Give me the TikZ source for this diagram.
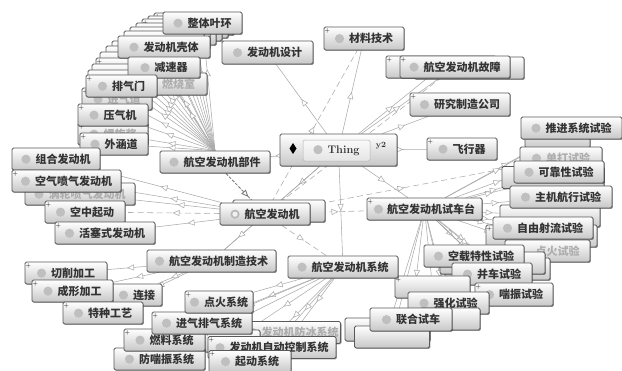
\documentclass[tikz,border=0pt]{standalone}
\usepackage{fontspec}
\newfontfamily\cjk{Noto Sans CJK SC}
\usetikzlibrary{arrows.meta,decorations.markings,shadows,backgrounds}
\newcommand\dotc{\tikz[baseline=-4pt]\fill[gray!50] (0pt,0pt) circle (4.6pt);}
\newcommand\ringc{\tikz[baseline=-4pt]{\fill[gray!55] (0pt,0pt) circle (4.6pt);\fill[gray!12] (0pt,0pt) circle (2.6pt);}}
\tikzset{
  w/.style={minimum width=#1pt},
  cls/.style={draw=black!65, line width=0.75pt, rounded corners=1.5pt,
    top color=white, bottom color=black!22, minimum height=22pt,
    inner xsep=2pt, inner ysep=1pt, font=\cjk\bfseries\fontsize{11}{13}\selectfont,
    text=black!80,
    drop shadow={shadow xshift=0.9pt, shadow yshift=-0.9pt, opacity=0.4, fill=black}},
  ghost/.style={cls, text=black!32},
  plus/.style={path picture={\node[font=\fontsize{6.5}{6.5}\selectfont, inner sep=0pt, text=black]
      at ([xshift=3.2pt,yshift=-3.8pt]path picture bounding box.north west) {+};}},
  innerbox/.style={draw=black!30, line width=0.5pt, rounded corners=1.5pt,
    top color=gray!4, bottom color=gray!20, minimum height=21pt, inner xsep=2pt,
    font=\rmfamily\bfseries\fontsize{11}{13}\selectfont, text=black!80},
  sub/.style={draw=gray!65, line width=0.55pt,
    postaction={decorate, decoration={markings,
      mark=at position #1 with {\arrow{Triangle[fill=white, length=7pt, width=6pt]}}}}},
  sub/.default=0.5,
  dsub/.style={sub=#1, dash pattern=on 6pt off 3.5pt},
  dsub/.default=0.5,
  ddk/.style={draw=black!55, line width=0.8pt, dash pattern=on 3pt off 1.5pt,
    postaction={decorate, decoration={markings,
      mark=at position 0.8 with {\arrow{Triangle[fill=white, length=7pt, width=6pt]}}}}}
}
\begin{document}
\begin{tikzpicture}[x=1pt,y=-1pt]
\useasboundingbox (0,0) rectangle (622,370);

% ---------- fan of part classes (top left)
\node[ghost,plus,w=80] (g1) at (194,24) {};
\node[ghost,w=80] (g2) at (188,27) {};
\node[ghost,plus,w=80] (g3) at (182,30) {};
\node[ghost,w=80] (g4) at (176,34) {};
\node[ghost,w=80] (g5) at (170,38) {};
\node[ghost,w=80] (g6) at (164,42) {};
\node[ghost,w=80] (g7) at (152,52) {};
\node[ghost,w=80] (g8) at (146,57) {};
\node[ghost,w=80] (g9) at (140,63) {};
\node[ghost,plus,w=80] (g10) at (136,69) {};
\node[ghost,w=80] (g11) at (132,75) {};
\node[ghost,w=80] (g12) at (128,81) {};
\node[cls,w=79] (ZTYH) at (202.5,23) {\dotc\hspace{5pt}整体叶环};
\node[cls,w=92] (KT) at (164,47) {\dotc\hspace{5pt}发动机壳体};
\node[ghost,w=71] (RSS) at (171.5,84) {\dotc\hspace{5pt}燃烧室};
\node[cls,w=72,minimum height=21pt] (JSQ) at (164,67.5) {\dotc\hspace{5pt}减速器};
\node[ghost,plus,w=70] (JQD) at (117,99) {\dotc\hspace{5pt}进气道};
\node[cls,plus,w=71] (PQM) at (121.5,86) {\dotc\hspace{5pt}排气门};
\node[ghost,plus,w=70] (LXJ) at (113,134) {\dotc\hspace{5pt}螺旋桨};
\node[cls,plus,w=70] (YQJ) at (113,115) {\dotc\hspace{5pt}压气机};
\node[cls,plus,w=68] (WHD) at (114,144) {\dotc\hspace{5pt}外涵道};
\node[cls,w=110] (BJ) at (215,162) {\dotc\hspace{5pt}航空发动机部件};

% ---------- top middle / right
\node[cls,w=91,minimum height=23pt] (SJ) at (267.5,52.5) {\dotc\hspace{5pt}发动机设计};
\node[cls,plus,w=80,minimum height=23pt] (CL) at (364,38.5) {\dotc\hspace{5pt}材料技术};
\node[ghost,plus,w=110] (GZa) at (441,67) {};
\node[ghost,w=110] (GZb) at (469,68) {};
\node[cls,plus,w=110] (GZ) at (455,67) {\dotc\hspace{5pt}航空发动机故障};
\node[cls,plus,w=100,minimum height=23pt] (YJ) at (460,104.5) {\dotc\hspace{5pt}研究制造公司};
\node[cls,plus,w=70] (FXQ) at (462,149) {\dotc\hspace{5pt}飞行器};

% ---------- Thing
\node[cls,w=117,minimum height=32pt] (TH) at (338.5,150) {};
\node[font=\rmfamily\bfseries\fontsize{8}{8}\selectfont, text=black!80, inner sep=0pt] (Y2) at (381,146) {y2};
\fill[black] (293,143) -- (296.5,148.5) -- (293,154) -- (289.5,148.5) -- cycle;
\node[innerbox,w=67] (THi) at (336.5,150.5) {\dotc\hspace{5pt}Thing};

% ---------- left engine types
\node[cls,w=88] (ZH) at (56,159) {\dotc\hspace{5pt}组合发动机};
\node[ghost,w=110] (WP) at (80,194) {\dotc\hspace{5pt}涡轮喷气发动机};
\node[cls,plus,w=109] (KQ) at (66.5,181) {\dotc\hspace{5pt}空气喷气发动机};
\node[cls,plus,w=80] (KZ) at (85,212) {\dotc\hspace{5pt}空中起动};
\node[cls,plus,w=100] (HS) at (105,233) {\dotc\hspace{5pt}活塞式发动机};

% ---------- engine and test bench
\node[ghost,w=92] (HKg) at (279,211) {};
\node[cls,w=90] (HK) at (265,214) {\ringc\hspace{5pt}航空发动机};
\node[cls,plus,w=115] (SCZ) at (424.5,209) {\dotc\hspace{4pt}航空发动机试车台};

% ---------- right test cluster
\node[ghost,w=65] (DDg) at (557.5,137) {};
\node[cls,w=101] (TJ) at (571.5,128) {\dotc\hspace{5pt}推进系统试验};
\node[ghost,w=82] (DD) at (561,158) {\dotc\hspace{5pt}单打试验};
\node[ghost,w=102] (KKg) at (553,177.5) {};
\node[cls,w=90] (KK) at (559,172) {\dotc\hspace{5pt}可靠性试验};
\node[ghost,w=100] (ZYg) at (550,216) {};
\node[cls,w=102] (ZJ) at (561,197) {\dotc\hspace{5pt}主机航行试验};
\node[ghost,plus,w=111] (ZYg2) at (541.5,236) {};
\node[cls,w=100] (ZY) at (543,228) {\dotc\hspace{5pt}自由射流试验};
\node[ghost,w=85] (DHg) at (547.5,251) {\hspace{20pt}点火试验};
\node[ghost,w=105] (BCg2) at (497.5,269) {};
\node[ghost,w=105] (BCg1) at (492.5,263) {};
\node[cls,w=100] (KZT) at (474,256) {\dotc\hspace{5pt}空载特性试验};
\node[cls,w=80] (BC) at (492,274) {\dotc\hspace{5pt}并车试验};
\node[ghost,plus,w=75] (JSg) at (432.5,287) {};
\node[cls,plus,w=78,minimum height=23pt] (CZ) at (514,294.5) {\dotc\hspace{5pt}喘振试验};
\node[cls,w=81] (QH) at (448.5,303) {\dotc\hspace{5pt}强化试验};
\node[ghost,w=85,minimum height=23pt] (WDg) at (387.5,329.5) {};
\node[ghost,w=75] (LHg2) at (392,337) {};
\node[ghost,w=60] (LHg) at (450,319) {};
\node[cls,w=82,minimum height=23pt] (LH) at (411,319.5) {\dotc\hspace{5pt}联合试车};

% ---------- manufacturing technology
\node[cls,w=129] (ZZ) at (211.5,261) {\dotc\hspace{5pt}航空发动机制造技术};
\node[cls,plus,w=82] (QX) at (66,273) {\dotc\hspace{5pt}切削加工};
\node[cls,w=62] (LJ) at (131,295) {\hspace{12pt}\dotc\hspace{5pt}连接};
\node[cls,plus,w=81] (CX) at (72.5,291) {\dotc\hspace{5pt}成形加工};
\node[cls,plus,w=80] (TZ) at (103,313) {\dotc\hspace{5pt}特种工艺};

% ---------- engine systems
\node[cls,w=110] (XT) at (343,267) {\dotc\hspace{5pt}航空发动机系统};
\node[ghost,w=93] (FBg) at (293.5,332.5) {\dotc\hspace{4pt}发动机防冰系统};
\node[ghost,plus,w=56] (SXg) at (232,341) {};
\node[cls,w=91] (FC) at (159.5,359) {\dotc\hspace{5pt}防喘振系统};
\node[cls,plus,w=81] (RL) at (164.5,340) {\dotc\hspace{5pt}燃料系统};
\node[cls,plus,w=100] (JP) at (202,323) {\dotc\hspace{5pt}进气排气系统};
\node[cls,plus,w=68] (DH) at (219,302) {\dotc\hspace{5pt}点火系统};
\node[cls,plus,w=128] (ZD) at (272,347.5) {\dotc\hspace{5pt}发动机自动控制系统};
\node[cls,plus,w=82] (QD) at (250,361.5) {\dotc\hspace{5pt}起动系统};

% ---------- connectors
\begin{pgfonlayer}{background}
\fill[white] (0,0) rectangle (622,370);
\foreach \t in {SJ,CL,GZa,GZ,YJ,BJ,HK,XT,SCZ,ZZ}
  \draw[sub] (TH) -- (\t);
\draw[sub=0.2] (TH) -- (FXQ);
\draw[dsub] (HK) -- (CL);
\draw[dsub] (HK) -- (GZ);
\draw[dsub=0.45] (HK) -- (DD);
\draw[dsub] (HK) -- (SCZ);
\draw[dsub] (HK) -- (XT);
\draw[dsub] (HK) -- (KZ);
\draw[ddk] (BJ) -- (HK);
\foreach \t in {ZH,KQ,WP,HS,ZZ}
  \draw[sub] (HK) -- (\t);
\foreach \t in {ZTYH,g1,g2,g3,g4,g5,g6,g7,g8,g9,g10,g11,g12,KT,JSQ,RSS,PQM,JQD,YQJ,LXJ,WHD}
  \draw[sub=0.7] (BJ.north) -- (\t);
\foreach \t in {QX,CX,LJ,TZ}
  \draw[sub] (ZZ) -- (\t);
\foreach \t in {DH,JP,FBg,SXg,RL,ZD,FC,QD}
  \draw[sub=0.55] (XT) -- (\t);
\foreach \t in {TJ,DDg,DD,KKg,KK,ZJ,ZYg,ZY,ZYg2,DHg}
  \draw[sub=0.6] (SCZ) -- (\t);
\foreach \t in {KZT,BCg1,BCg2,BC,JSg,CZ,QH,LHg,LH,WDg,LHg2}
  \draw[sub=0.65] (SCZ) -- (\t);
\end{pgfonlayer}
\end{tikzpicture}
\end{document}
